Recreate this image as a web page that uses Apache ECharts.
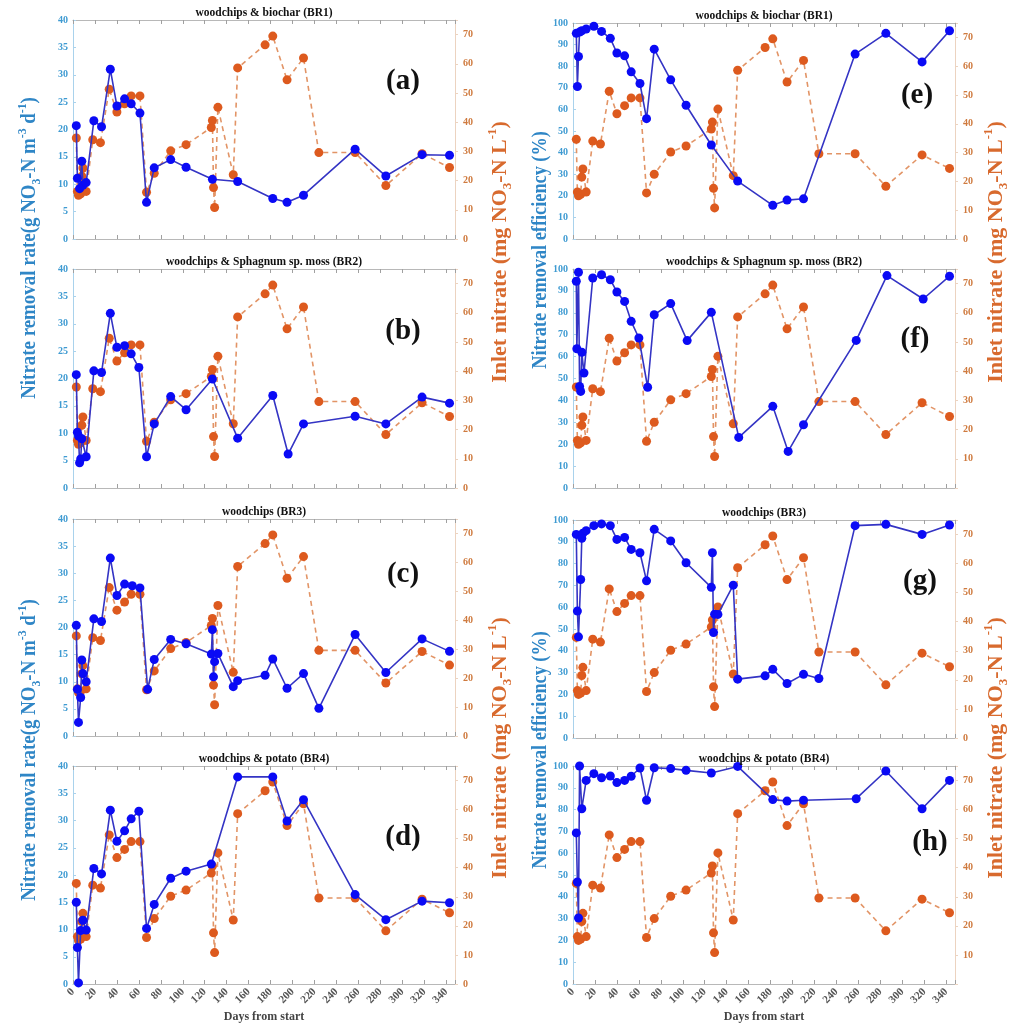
<!DOCTYPE html>
<html><head><meta charset="utf-8">
<script src="https://cdn.jsdelivr.net/npm/echarts@6/dist/echarts.min.js"></script>
<style>html,body{margin:0;padding:0;background:#fff}#c{width:1009px;height:1030px}</style>
</head><body><div id="c"></div>
<script>
// ---- data ----
const inletDays = [3, 4, 5, 7, 8, 9, 12, 18, 25, 33, 40, 47, 53, 61, 67, 74, 89, 103, 126, 127, 128, 129, 132, 146, 150, 175, 182, 195, 210, 224, 257, 285, 318, 343];
const inlet = [34.6, 16.3, 15.0, 15.5, 21.5, 24.3, 16.3, 34.0, 33.0, 51.3, 43.5, 46.3, 49.0, 49.0, 16.0, 22.5, 30.2, 32.3, 38.2, 40.6, 17.6, 10.8, 45.1, 22.0, 58.6, 66.5, 69.5, 54.5, 62.0, 29.6, 29.6, 18.3, 29.2, 24.5];

const daysA = [3, 4, 6, 8, 9, 12, 19, 26, 34, 40, 47, 53, 61, 67, 74, 89, 103, 127, 150, 182, 195, 210, 257, 285, 318, 343];
const rateA = [20.7, 11.1, 9.2, 14.2, 9.8, 10.3, 21.6, 20.5, 31.0, 24.3, 25.6, 24.7, 23.0, 6.7, 13.0, 14.5, 13.1, 10.9, 10.5, 7.4, 6.7, 8.0, 16.4, 11.5, 15.4, 15.3];

const daysB = [3, 4, 5, 6, 7, 8, 12, 19, 26, 34, 40, 47, 53, 60, 67, 74, 89, 103, 127, 150, 182, 196, 210, 257, 285, 318, 343];
const rateB = [20.7, 10.2, 9.5, 4.6, 5.3, 9.0, 5.7, 21.4, 21.1, 31.9, 25.7, 26.0, 24.5, 22.0, 5.7, 11.7, 16.7, 14.3, 19.9, 9.1, 16.9, 6.2, 11.7, 13.1, 11.7, 16.6, 15.5];

const daysC = [3, 4, 5, 7, 8, 9, 12, 19, 26, 34, 40, 47, 54, 61, 68, 74, 89, 103, 126, 127, 128, 129, 132, 146, 150, 175, 182, 195, 210, 224, 257, 285, 318, 343];
const rateC = [20.4, 8.6, 2.5, 7.1, 14.0, 11.5, 10.0, 21.6, 21.1, 32.8, 25.9, 28.0, 27.7, 27.3, 8.6, 14.1, 17.8, 17.0, 15.1, 19.6, 10.9, 13.7, 15.2, 9.1, 10.2, 11.2, 14.2, 8.8, 11.5, 5.1, 18.7, 11.7, 17.9, 15.6];

const daysD = [3, 4, 5, 7, 9, 12, 19, 26, 34, 40, 47, 53, 60, 67, 74, 89, 103, 126, 150, 182, 195, 210, 257, 285, 318, 343];
const rateD = [15.0, 6.7, 0.2, 9.8, 11.7, 9.9, 21.2, 20.2, 31.9, 26.2, 28.1, 30.3, 31.7, 10.2, 14.6, 19.4, 20.7, 22.0, 38.0, 38.0, 29.9, 33.8, 16.4, 11.8, 15.2, 14.9];

const daysE = [3, 4, 5, 6, 8, 12, 19, 26, 34, 40, 47, 53, 61, 67, 74, 89, 103, 126, 150, 182, 195, 210, 257, 285, 318, 343];
const effE = [95.2, 70.6, 84.5, 95.8, 96.4, 97.2, 98.5, 96.1, 92.9, 86.1, 84.8, 77.4, 72.0, 55.7, 87.9, 73.7, 61.9, 43.5, 26.8, 15.6, 18.0, 18.6, 85.6, 95.2, 82.0, 96.4];

const daysF = [3, 3.5, 5, 6, 7, 8, 10, 18, 26, 34, 40, 47, 53, 60, 68, 74, 89, 104, 126, 151, 182, 196, 210, 258, 286, 319, 343];
const effF = [94.4, 63.6, 98.5, 46.4, 44.1, 62.0, 52.5, 95.9, 97.4, 95.1, 89.5, 85.2, 76.1, 68.5, 46.0, 79.1, 84.2, 67.3, 80.2, 23.1, 37.3, 16.7, 28.9, 67.4, 97.0, 86.3, 96.7];

const daysG = [3, 4, 5, 7, 8, 9, 12, 19, 26, 34, 40, 47, 53, 61, 67, 74, 89, 103, 126, 127, 128, 129, 132, 146, 150, 175, 182, 195, 210, 224, 257, 285, 318, 343];
const effG = [93.4, 58.2, 46.4, 72.7, 91.6, 93.9, 95.1, 97.4, 98.2, 97.4, 91.1, 92.0, 86.5, 85.0, 72.1, 95.7, 90.4, 80.4, 69.1, 85.0, 48.4, 56.8, 56.7, 70.1, 27.0, 28.5, 31.5, 25.0, 29.2, 27.3, 97.4, 98.0, 93.4, 97.7];

const daysH = [3, 4, 5, 6, 8, 12, 19, 26, 34, 40, 47, 53, 61, 67, 74, 89, 103, 126, 150, 182, 195, 210, 258, 285, 318, 343];
const effH = [69.3, 46.8, 30.3, 100.0, 80.4, 93.4, 96.5, 94.6, 95.4, 92.4, 93.4, 95.3, 99.1, 84.3, 99.2, 98.8, 98.0, 96.8, 99.8, 84.6, 83.9, 84.3, 85.0, 97.7, 80.4, 93.4];

const titles = ['woodchips & biochar (BR1)', 'woodchips & Sphagnum sp. moss (BR2)', 'woodchips (BR3)', 'woodchips & potato (BR4)'];
const letters = ['(a)', '(b)', '(c)', '(d)', '(e)', '(f)', '(g)', '(h)'];

// ---- build ----
const FONT = '"Liberation Serif","DejaVu Serif",serif';
const panels = [
  {days: daysA, vals: rateA, col: 0, row: 0},
  {days: daysB, vals: rateB, col: 0, row: 1},
  {days: daysC, vals: rateC, col: 0, row: 2},
  {days: daysD, vals: rateD, col: 0, row: 3},
  {days: daysE, vals: effE, col: 1, row: 0},
  {days: daysF, vals: effF, col: 1, row: 1},
  {days: daysG, vals: effG, col: 1, row: 2},
  {days: daysH, vals: effH, col: 1, row: 3}
];
const colLeft = [73, 573], W = 382;
const tops = [[20, 269, 519, 766], [23, 269, 520, 766]];
const heights = [[219, 219, 217, 218], [216, 219, 218, 218]];
const letterPos = [[403, 82], [403, 332], [403, 575], [403, 838], [917, 96], [915, 340], [920, 582], [930, 843]];
const zip = (a, b) => a.map((v, i) => [v, b[i]]);

const BLUE_LBL = '#3f9bd2', ORG_LBL = '#cf7a3e';
const grid = [], xAxis = [], yAxis = [], series = [], graphic = [];
panels.forEach((p, i) => {
  const left = colLeft[p.col], top = tops[p.col][p.row], h = heights[p.col][p.row];
  grid.push({left: left, top: top, width: W, height: h});
  const bottom = p.row === 3;
  const xCommon = {gridIndex: i, type: 'value', min: 0, max: 348, interval: 20, splitLine: {show: false},
    axisLine: {onZero: false, lineStyle: {color: '#b8b8b8', width: 1}},
    axisTick: {inside: true, length: 4, lineStyle: {color: '#a0a0a0'}}};
  xAxis.push(Object.assign({}, xCommon, {position: 'bottom',
    axisLabel: {show: bottom, rotate: 45, margin: 6, color: '#555', fontFamily: FONT, fontWeight: 'bold', fontSize: 11,
      formatter: v => (v % 20 === 0 ? String(v) : '')}}));
  xAxis.push(Object.assign({}, xCommon, {position: 'top', axisLabel: {show: false}}));
  const eff = p.col === 1;
  yAxis.push({gridIndex: i, type: 'value', position: 'left', min: 0, max: eff ? 100 : 40, interval: eff ? 10 : 5,
    splitLine: {show: false},
    axisLine: {show: true, onZero: false, lineStyle: {color: '#a9d2ec'}},
    axisTick: {show: true, inside: true, length: 3, lineStyle: {color: '#a9d2ec'}},
    axisLabel: {color: BLUE_LBL, fontFamily: FONT, fontWeight: 'bold', fontSize: 10, margin: 5}});
  const hideZero = (i === 5 || i === 7);
  yAxis.push({gridIndex: i, type: 'value', position: 'right', min: 0, max: 75, interval: 10,
    splitLine: {show: false},
    axisLine: {show: true, onZero: false, lineStyle: {color: '#ecd3c0'}},
    axisTick: {show: true, inside: false, length: 3, lineStyle: {color: '#ecd3c0'}},
    axisLabel: {color: ORG_LBL, fontFamily: FONT, fontWeight: 'bold', fontSize: 10, margin: 8,
      formatter: v => (v > 72 || (hideZero && v === 0) ? '' : String(v))}});
  series.push({type: 'line', xAxisIndex: 2 * i, yAxisIndex: 2 * i + 1, data: zip(inletDays, inlet),
    symbol: 'circle', symbolSize: 9, itemStyle: {color: '#dd5a1e'},
    lineStyle: {color: '#e29466', width: 1.6, type: [5, 4]}, z: 2, animation: false});
  series.push({type: 'line', xAxisIndex: 2 * i, yAxisIndex: 2 * i, data: zip(p.days, p.vals),
    symbol: 'circle', symbolSize: 9, itemStyle: {color: '#0a0af5'},
    lineStyle: {color: '#3434c4', width: 1.6}, z: 3, animation: false});
  // panel title
  graphic.push({type: 'text', x: left + W / 2, y: top - 7, z: 10,
    style: {text: titles[p.row], fill: '#111', font: 'bold 11.5px ' + FONT, align: 'center', verticalAlign: 'middle'}});
  graphic.push({type: 'text', x: letterPos[i][0], y: letterPos[i][1], z: 10,
    style: {text: letters[i], fill: '#111', font: 'bold 29px ' + FONT, align: 'center', verticalAlign: 'middle'}});
  if (bottom) {
    graphic.push({type: 'text', x: left + W / 2, y: 1017, z: 10,
      style: {text: 'Days from start', fill: '#444', font: 'bold 12px ' + FONT, align: 'center', verticalAlign: 'middle'}});
  }
});

function richTitle(parts, color, size) {
  const text = parts.map(pt => '{' + pt[0] + '|' + pt[1] + '}').join('');
  const base = {fill: color, fontFamily: FONT, fontWeight: 'bold', lineHeight: size + 6};
  return {
    text: text, align: 'center', verticalAlign: 'middle',
    rich: {
      n: Object.assign({}, base, {fontSize: size, verticalAlign: 'middle'}),
      sub: Object.assign({}, base, {fontSize: Math.round(size * 0.6), verticalAlign: 'bottom'}),
      sup: Object.assign({}, base, {fontSize: Math.round(size * 0.6), verticalAlign: 'top'})
    }
  };
}
const rateTitle = [['n', 'Nitrate removal rate(g NO'], ['sub', '3'], ['n', '-N m'], ['sup', '-3'], ['n', ' d'], ['sup', '-1'], ['n', ')']];
const inletTitle = [['n', 'Inlet nitrate (mg NO'], ['sub', '3'], ['n', '-N L'], ['sup', '-1'], ['n', ')']];
const effTitle = [['n', 'Nitrate removal efficiency (%)']];
const BLUE_T = '#2f86c6', ORG_T = '#d86a2e';
[[30, 248], [30, 750]].forEach(c => graphic.push({type: 'text', x: c[0], y: c[1], rotation: Math.PI / 2, scaleX: 0.9, z: 10, style: richTitle(rateTitle, BLUE_T, 21)}));
[[500, 252], [500, 748]].forEach(c => graphic.push({type: 'text', x: c[0], y: c[1], rotation: Math.PI / 2, scaleX: 1.0, z: 10, style: richTitle(inletTitle, ORG_T, 22)}));
[[541, 250], [541, 750]].forEach(c => graphic.push({type: 'text', x: c[0], y: c[1], rotation: Math.PI / 2, scaleX: 0.87, z: 10, style: richTitle(effTitle, BLUE_T, 21)}));
[[996, 252], [996, 748]].forEach(c => graphic.push({type: 'text', x: c[0], y: c[1], rotation: Math.PI / 2, scaleX: 1.0, z: 10, style: richTitle(inletTitle, ORG_T, 22)}));

const chart = echarts.init(document.getElementById('c'), null, {renderer: 'canvas'});
chart.setOption({backgroundColor: '#fff', animation: false, grid, xAxis, yAxis, series, graphic});
</script></body></html>
